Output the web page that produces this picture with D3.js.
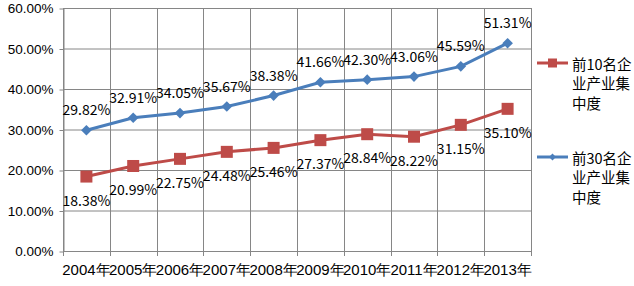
<!DOCTYPE html>
<html>
<head>
<meta charset="utf-8">
<script src="https://cdn.jsdelivr.net/npm/d3@7"></script>
<style>
  body { margin: 0; background: #fff; }
  svg { display: block; font-family: "Noto Sans CJK SC", "DejaVu Sans", sans-serif; }
  .axis text { fill: #000; font-size: 13px; }
  .axis path, .axis line { stroke: #868686; }
</style>
</head>
<body>
<svg id="chart"></svg>
<script>
// chart data
const years = ["2004年", "2005年", "2006年", "2007年", "2008年", "2009年", "2010年", "2011年", "2012年", "2013年"];
const top10 = [18.38, 20.99, 22.75, 24.48, 25.46, 27.37, 28.84, 28.22, 31.15, 35.10];
const top30 = [29.82, 32.91, 34.05, 35.67, 38.38, 41.66, 42.30, 43.06, 45.59, 51.31];
const yTicks = [0, 10, 20, 30, 40, 50, 60];
const legendNames = [["前10名企", "业产业集", "中度"], ["前30名企", "业产业集", "中度"]];

const width = 634, height = 286;
const margin = { top: 8, right: 103, bottom: 35, left: 63 };
const innerW = width - margin.left - margin.right;
const innerH = height - margin.top - margin.bottom;

const red = "#BE4B48", blue = "#4A7EBB", grid = "#868686";

const svg = d3.select("#chart").attr("width", width).attr("height", height);
const chart = svg.append("g").attr("transform", `translate(${margin.left},${margin.top})`);

const xScale = d3.scaleBand().domain(years).range([0, innerW]);
const yScale = d3.scaleLinear().domain([0, 60]).range([innerH, 0]);
const xc = (i) => xScale(years[i]) + xScale.bandwidth() / 2;

// horizontal grid lines
chart.append("g").selectAll("line").data(yTicks).join("line")
  .attr("x1", 0).attr("x2", innerW)
  .attr("y1", (d) => yScale(d) + 0.5).attr("y2", (d) => yScale(d) + 0.5)
  .attr("stroke", grid);

// vertical grid lines at band edges
const edges = years.map((y) => xScale(y)).concat([innerW]);
chart.append("g").selectAll("line").data(edges).join("line")
  .attr("x1", (d) => Math.round(d) + 0.5).attr("x2", (d) => Math.round(d) + 0.5)
  .attr("y1", 0).attr("y2", innerH + 5)
  .attr("stroke", grid);

// y axis
const yAxis = d3.axisLeft(yScale).tickValues(yTicks).tickSize(4).tickSizeOuter(0)
  .tickFormat((d) => d.toFixed(2) + "%");
chart.append("g").attr("class", "axis").attr("transform", "translate(0.5,0.5)").call(yAxis)
  .call((g) => g.selectAll("text").attr("x", -10).style("font-size", "13.5px"));

// x axis labels
const xAxis = d3.axisBottom(xScale).tickSize(0).tickSizeOuter(0);
chart.append("g").attr("class", "axis").attr("transform", `translate(0,${innerH})`).call(xAxis)
  .call((g) => g.select(".domain").remove())
  .call((g) => g.selectAll("text").attr("y", 13).style("font-size", "15px"));

const line = d3.line().x((d, i) => xc(i)).y((d) => yScale(d));

// top10 series
chart.append("path").datum(top10).attr("d", line)
  .attr("fill", "none").attr("stroke", red).attr("stroke-width", 3);
chart.append("g").selectAll("rect").data(top10).join("rect")
  .attr("x", (d, i) => xc(i) - 6).attr("y", (d) => yScale(d) - 6)
  .attr("width", 12).attr("height", 12).attr("fill", red);

// top30 series
chart.append("path").datum(top30).attr("d", line)
  .attr("fill", "none").attr("stroke", blue).attr("stroke-width", 3);
chart.append("g").selectAll("path").data(top30).join("path")
  .attr("d", d3.symbol(d3.symbolDiamond2, 72))
  .attr("transform", (d, i) => `translate(${xc(i)},${yScale(d)})`)
  .attr("fill", blue);

// data labels
chart.append("g").selectAll("text").data(top30).join("text")
  .attr("x", (d, i) => xc(i)).attr("y", (d) => yScale(d) - 21)
  .attr("text-anchor", "middle").attr("dominant-baseline", "central")
  .style("font-size", "14px").text((d) => d.toFixed(2) + "%");
chart.append("g").selectAll("text").data(top10).join("text")
  .attr("x", (d, i) => xc(i)).attr("y", (d) => yScale(d) + 23)
  .attr("text-anchor", "middle").attr("dominant-baseline", "central")
  .style("font-size", "14px").text((d) => d.toFixed(2) + "%");

// legend
const legend = svg.append("g").attr("transform", "translate(537,63)");
const legendItems = legend.selectAll("g").data(legendNames).join("g")
  .attr("transform", (d, i) => `translate(0,${i * 94})`);
legendItems.append("line").attr("x1", 0).attr("x2", 31).attr("y1", 0).attr("y2", 0)
  .attr("stroke", (d, i) => (i === 0 ? red : blue)).attr("stroke-width", 3);
legendItems.filter((d, i) => i === 0).append("rect")
  .attr("x", 11).attr("y", -4.5).attr("width", 9).attr("height", 9).attr("fill", red);
legendItems.filter((d, i) => i === 1).append("path")
  .attr("d", d3.symbol(d3.symbolDiamond2, 30)).attr("transform", "translate(15.5,0)").attr("fill", blue);
legendItems.append("text").attr("x", 35).attr("y", 0)
  .style("font-size", "14.5px")
  .selectAll("tspan").data((d) => d).join("tspan")
  .attr("x", 35).attr("y", (d, i) => i * 19.5).attr("dominant-baseline", "central")
  .text((d) => d);
</script>
</body>
</html>
